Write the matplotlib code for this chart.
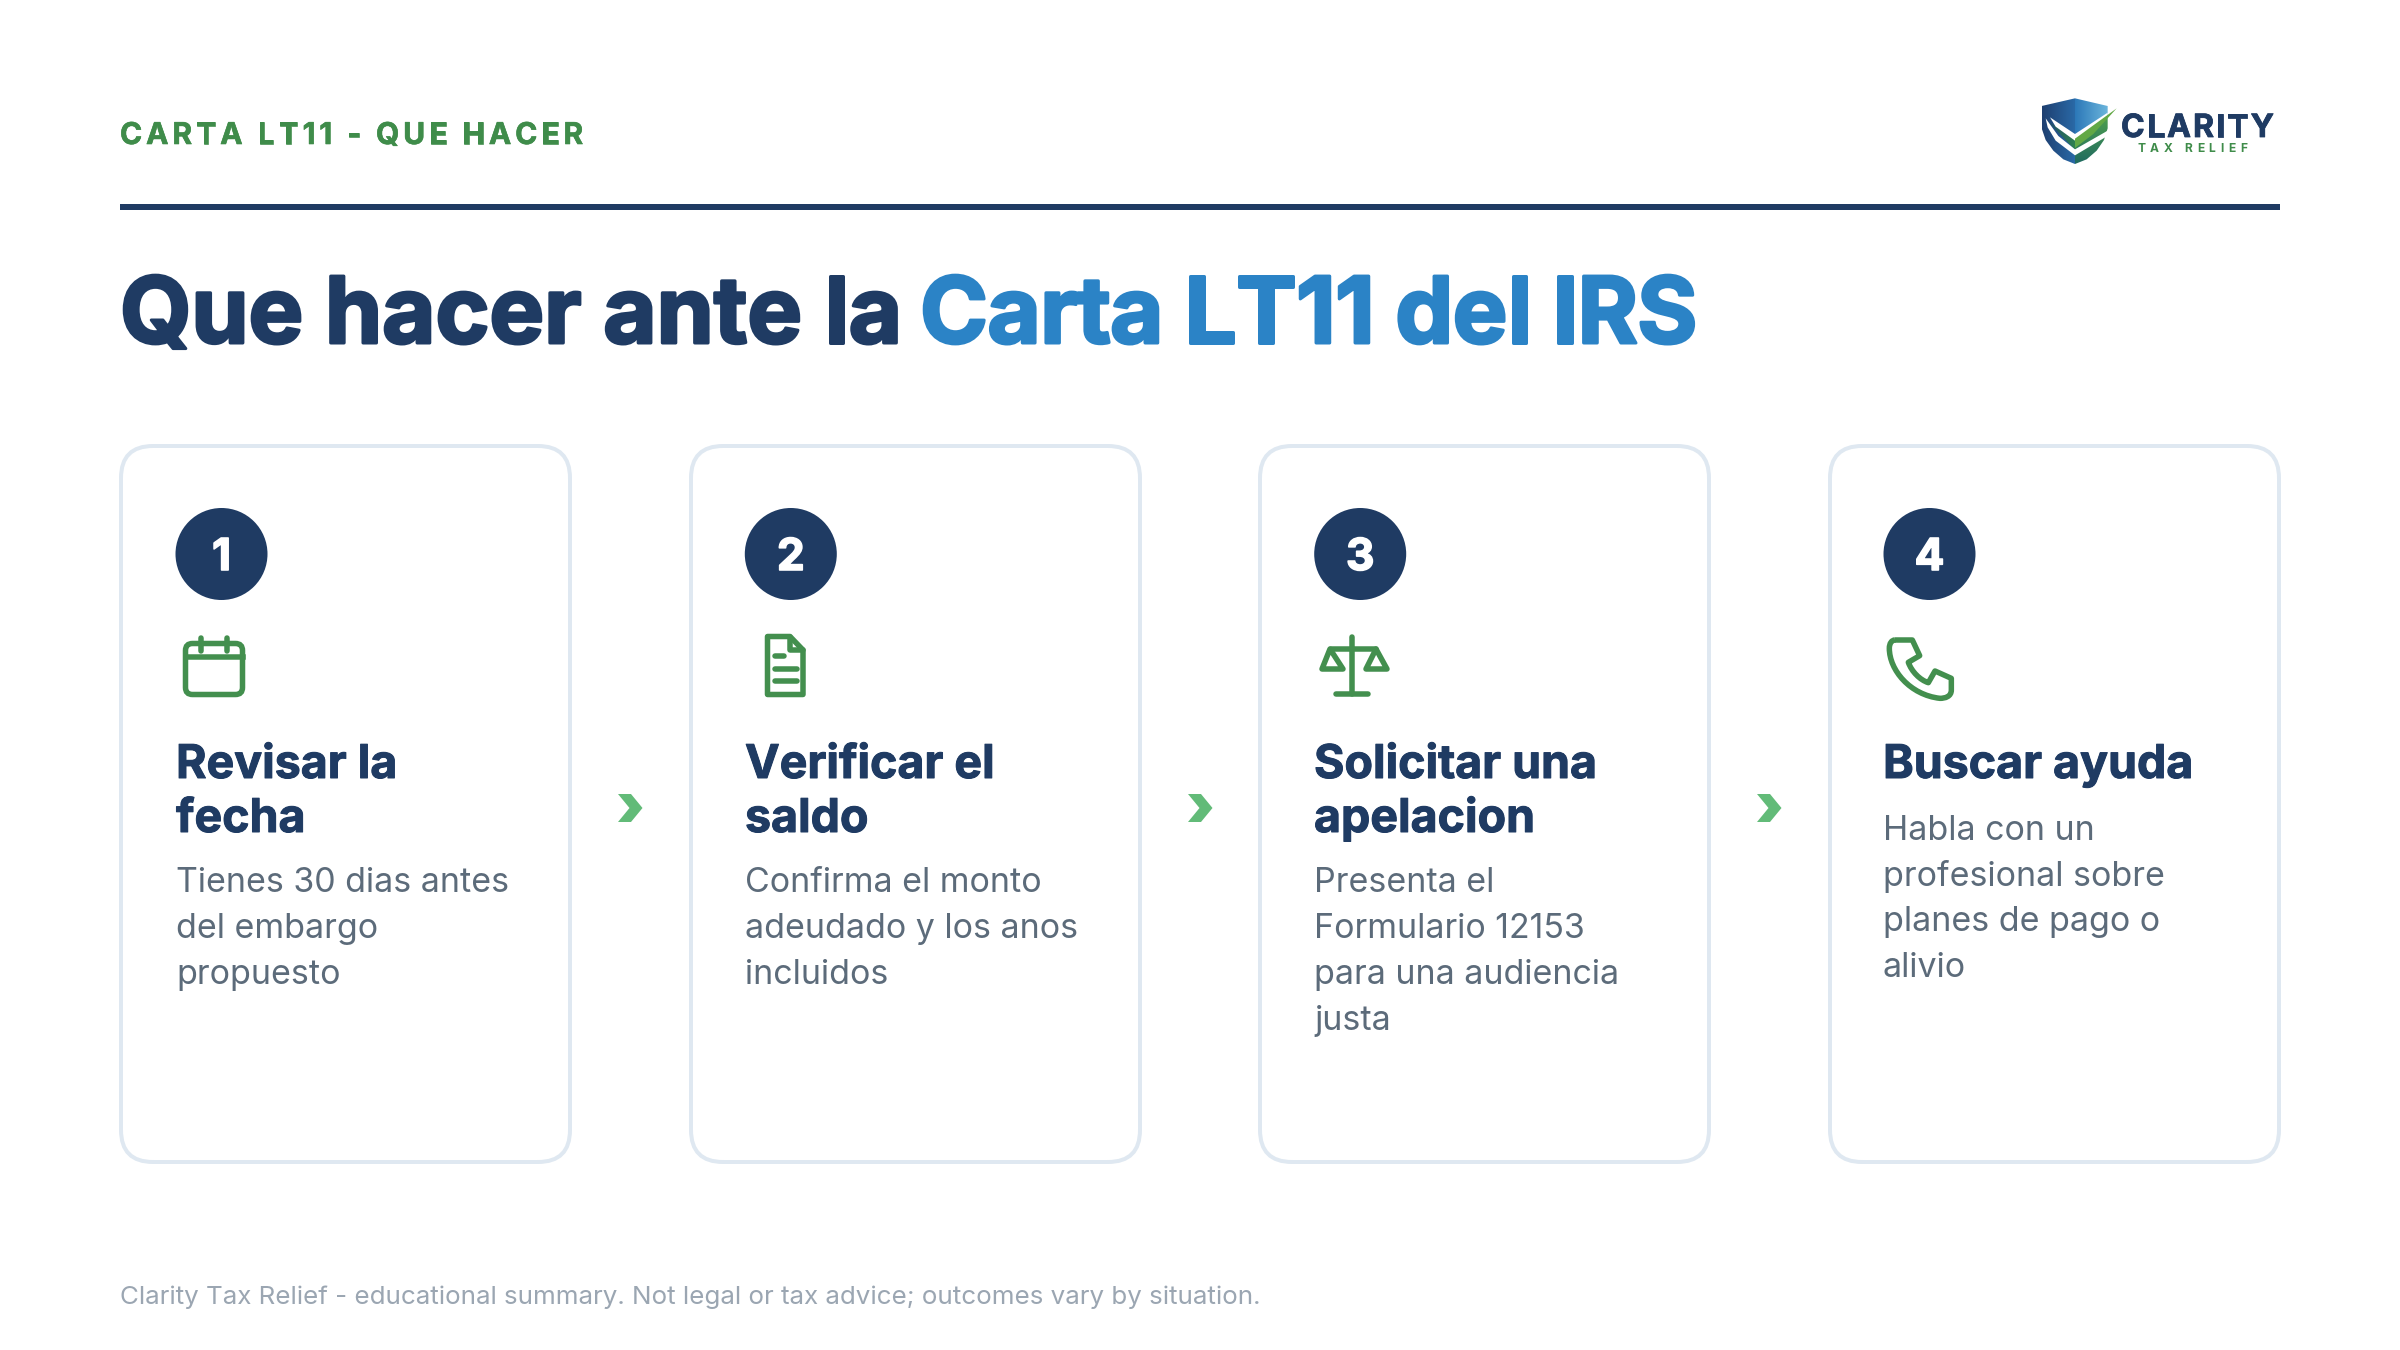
import matplotlib
matplotlib.use("Agg")
import matplotlib.pyplot as plt
import matplotlib.patheffects as pe
import numpy as np
from matplotlib.patches import FancyBboxPatch, Circle, Polygon, PathPatch
from matplotlib.path import Path
from matplotlib.text import Text
from matplotlib.transforms import IdentityTransform

W, H, DPI = 2400, 1350, 200
NAVY = "#1F3B63"; BLUE = "#2B83C6"; GREEN = "#438F4E"; BODY = "#5C6B7A"
LINE = "#DFE8F1"; CHEV = "#62BB78"; FOOT = "#9BA6B2"
FONT = ["Inter", "DejaVu Sans"]

header = "CARTA LT11 - QUE HACER"
title_a = "Que hacer ante la"
title_b = "Carta LT11 del IRS"
numbers = ["1", "2", "3", "4"]
step_titles = ["Revisar la\nfecha", "Verificar el\nsaldo", "Solicitar una\napelacion", "Buscar ayuda"]
step_bodies = [
    ["Tienes 30 dias antes", "del embargo", "propuesto"],
    ["Confirma el monto", "adeudado y los anos", "incluidos"],
    ["Presenta el", "Formulario 12153", "para una audiencia", "justa"],
    ["Habla con un", "profesional sobre", "planes de pago o", "alivio"],
]
footer = "Clarity Tax Relief - educational summary. Not legal or tax advice; outcomes vary by situation."

def pt(px):
    return px * 72 / DPI

class Tracked(Text):
    """One text whose letters are drawn with extra spacing."""
    tracking = 0
    def draw(self, renderer):
        s = self.get_text()
        prop = self.get_fontproperties()
        px, py = self.get_transform().transform(self.get_position())
        for i, ch in enumerate(s):
            w = renderer.get_text_width_height_descent(s[:i], prop, False)[0] if i else 0
            t = Text(px + w + i * self.tracking, py, ch, transform=IdentityTransform(),
                     fontproperties=prop, color=self.get_color(), ha="left", va="baseline")
            t.set_figure(self.get_figure())
            t.set_path_effects(self.get_path_effects())
            t.draw(renderer)

fig = plt.figure(figsize=(W / DPI, H / DPI), dpi=DPI, facecolor="white")
ax = fig.add_axes([0, 0, 1, 1])
ax.set_xlim(0, W); ax.set_ylim(H, 0); ax.axis("off")
SW = pt(5.5)

def txt(x, y, s, px, color, weight="normal", ha="left", va="baseline", bold=0, tracking=None, **kw):
    if tracking is None:
        t = ax.text(x, y, s, fontsize=pt(px), color=color, fontweight=weight, ha=ha, va=va, family=FONT, **kw)
    else:
        t = Tracked(x, y, s, fontsize=pt(px), color=color, fontweight=weight, ha=ha, va=va, family=FONT, **kw)
        t.tracking = tracking
        ax.add_artist(t)
    if bold:
        t.set_path_effects([pe.withStroke(linewidth=pt(bold), foreground=color)])
    return t

def stroke(pts, closed=False, lw=SW, fill="none"):
    ax.add_patch(Polygon(pts, closed=closed, fill=False if fill == "none" else True, facecolor=fill,
                         edgecolor=GREEN, lw=lw, joinstyle="round", capstyle="round"))

# header
txt(120, 144, header, 30, "#3F8C4A", "bold", bold=0.6, tracking=3.95)
ax.plot([120, 2280], [206.5, 206.5], color=NAVY, lw=pt(6), solid_capstyle="butt")

# title
txt(120, 343, title_a, 92, NAVY, "bold", bold=3, tracking=-0.05)
txt(920, 343, title_b, 92, BLUE, "bold", bold=3, tracking=-0.6)

# logo
def grad(poly, c0, c1, angle=0):
    xs = [p[0] for p in poly]; ys = [p[1] for p in poly]
    a = np.linspace(0, 1, 64)
    if angle == 0:
        g = np.tile(a, (64, 1))
    else:
        g = np.tile(a[:, None], (1, 64))
    c0 = np.array(matplotlib.colors.to_rgb(c0)); c1 = np.array(matplotlib.colors.to_rgb(c1))
    img = c0 + (c1 - c0) * g[..., None]
    im = ax.imshow(img, extent=(min(xs), max(xs), max(ys), min(ys)), aspect="auto", zorder=3, interpolation="bilinear")
    patch = Polygon(poly, closed=True, transform=ax.transData, facecolor="none", edgecolor="none")
    ax.add_patch(patch)
    im.set_clip_path(patch)

def lz(*pts):
    return [(2035 + x / 3, 90 + y / 3) for x, y in pts]

left = lz((20,48),(120,25),(120,222),(85,208),(55,182),(32,150),(20,115))
right_top = lz((120,25),(218,48),(218,80),(120,150))
right_low = lz((120,145),(218,80),(218,115),(207,150),(185,182),(155,208),(120,222))
grad(left, "#1E3F70", "#2A6AA8", 0)
grad(right_top, "#2C78B8", "#6BB5DC", 0)
grad(right_low, "#4FA04F", "#1F6A60", 1)
grad(lz((40,95),(120,145),(120,180)), "#1F4E6A", "#2F8050", 0)
ax.add_patch(Polygon(lz((45,82),(120,132),(218,68),(218,82),(120,152),(62,110)), closed=True, fc="white", ec="none", zorder=4))
ax.add_patch(Polygon(lz((120,146),(245,55),(175,132),(120,174)), closed=True, fc="#62A845", ec="none", zorder=5))
ax.add_patch(Polygon(lz((32,85),(70,138),(120,178),(218,122),(214,140),(120,196),(62,152),(38,112)), closed=True, fc="white", ec="none", zorder=5))
txt(2121, 137, "CLARITY", 32, NAVY, "bold", bold=0.8, tracking=2.1, zorder=6)
txt(2137, 152, "TAX RELIEF", 12, "#3F8C4A", "bold", tracking=4.6, zorder=6)

# cards
card_x = [121, 691, 1260, 1830]
circle_x = [221.5, 790.8, 1360.2, 1929.5]
text_x = [176, 745, 1314, 1883]
CARD_W, CARD_Y, CARD_H = 449, 446, 716
for i, x in enumerate(card_x):
    ax.add_patch(FancyBboxPatch((x, CARD_Y), CARD_W, CARD_H, boxstyle="round,pad=0,rounding_size=32",
                                fc="white", ec=LINE, lw=pt(4)))
    ax.add_patch(Circle((circle_x[i], 554), 46, fc=NAVY, ec="none"))
    txt(circle_x[i], 554 + 16, numbers[i], 44, "white", "bold", ha="center", bold=1.6)
    yb = 778
    for ln in step_titles[i].split("\n"):
        txt(text_x[i], yb, ln, 46.5, NAVY, "bold", bold=1)
        yb += 54
    two_lines = "\n" in step_titles[i]
    yb = 892 if two_lines else 840.4
    for ln in step_bodies[i]:
        txt(text_x[i], yb, ln, 34, BODY)
        yb += 46 if two_lines else 45.5

# arrows
for x in card_x[:3]:
    dx = x - 121 - 3
    ax.add_patch(Polygon([(621 + dx, 794), (634 + dx, 794), (645.5 + dx, 808), (634 + dx, 822), (621 + dx, 822), (632.5 + dx, 808)],
                         closed=True, fc=CHEV, ec="none"))

# calendar icon
ax.add_patch(FancyBboxPatch((185.5, 643.5), 57, 51, boxstyle="round,pad=0,rounding_size=7", fc="none", ec=GREEN, lw=SW))
ax.plot([185.5, 242.5], [657, 657], color=GREEN, lw=SW)
for xx in (201, 226.5):
    ax.plot([xx, xx], [637.5, 650.5], color=GREEN, lw=SW, solid_capstyle="round")

# document icon
stroke([(767.5, 636.5), (790, 636.5), (803, 650), (803, 694.5), (767.5, 694.5)], closed=True)
stroke([(790, 636.5), (790, 650), (803, 650)], closed=False)
for y, x1 in ((656, 784), (669, 797), (681, 797)):
    ax.plot([775, x1], [y, y], color=GREEN, lw=SW, solid_capstyle="round")

# scales icon
ax.plot([1352, 1352], [637, 694], color=GREEN, lw=SW, solid_capstyle="round")
ax.plot([1336, 1368], [694, 694], color=GREEN, lw=SW, solid_capstyle="round")
ax.plot([1331, 1376], [649, 649], color=GREEN, lw=SW, solid_capstyle="round")
stroke([(1330, 649), (1322, 669), (1343, 669)], closed=True)
stroke([(1376, 649), (1366, 669), (1387, 669)], closed=True)

# phone icon
def ph(x, y):
    return (1850 + x / 3, 480 + y / 3)
verts = [ph(135, 480), ph(187, 480), ph(209, 527), ph(175, 547),
         ph(185, 575), ph(210, 600), ph(235, 608), ph(255, 573), ph(304, 595), ph(304, 630),
         ph(304, 650), ph(285, 655), ph(270, 655),
         ph(180, 645), ph(118, 570), ph(118, 505),
         ph(118, 490), ph(125, 480), ph(135, 480)]
codes = [Path.MOVETO, Path.LINETO, Path.LINETO, Path.LINETO,
         Path.CURVE4, Path.CURVE4, Path.CURVE4, Path.LINETO, Path.LINETO, Path.LINETO,
         Path.CURVE4, Path.CURVE4, Path.CURVE4,
         Path.CURVE4, Path.CURVE4, Path.CURVE4,
         Path.CURVE4, Path.CURVE4, Path.CURVE4]
ax.add_patch(PathPatch(Path(verts, codes), fc="none", ec=GREEN, lw=SW, joinstyle="round"))

# footer
txt(120, 1304, footer, 25.97, FOOT)

ax.set_xlim(0, W); ax.set_ylim(H, 0)
fig.savefig("out.png", dpi=DPI, facecolor="white")
